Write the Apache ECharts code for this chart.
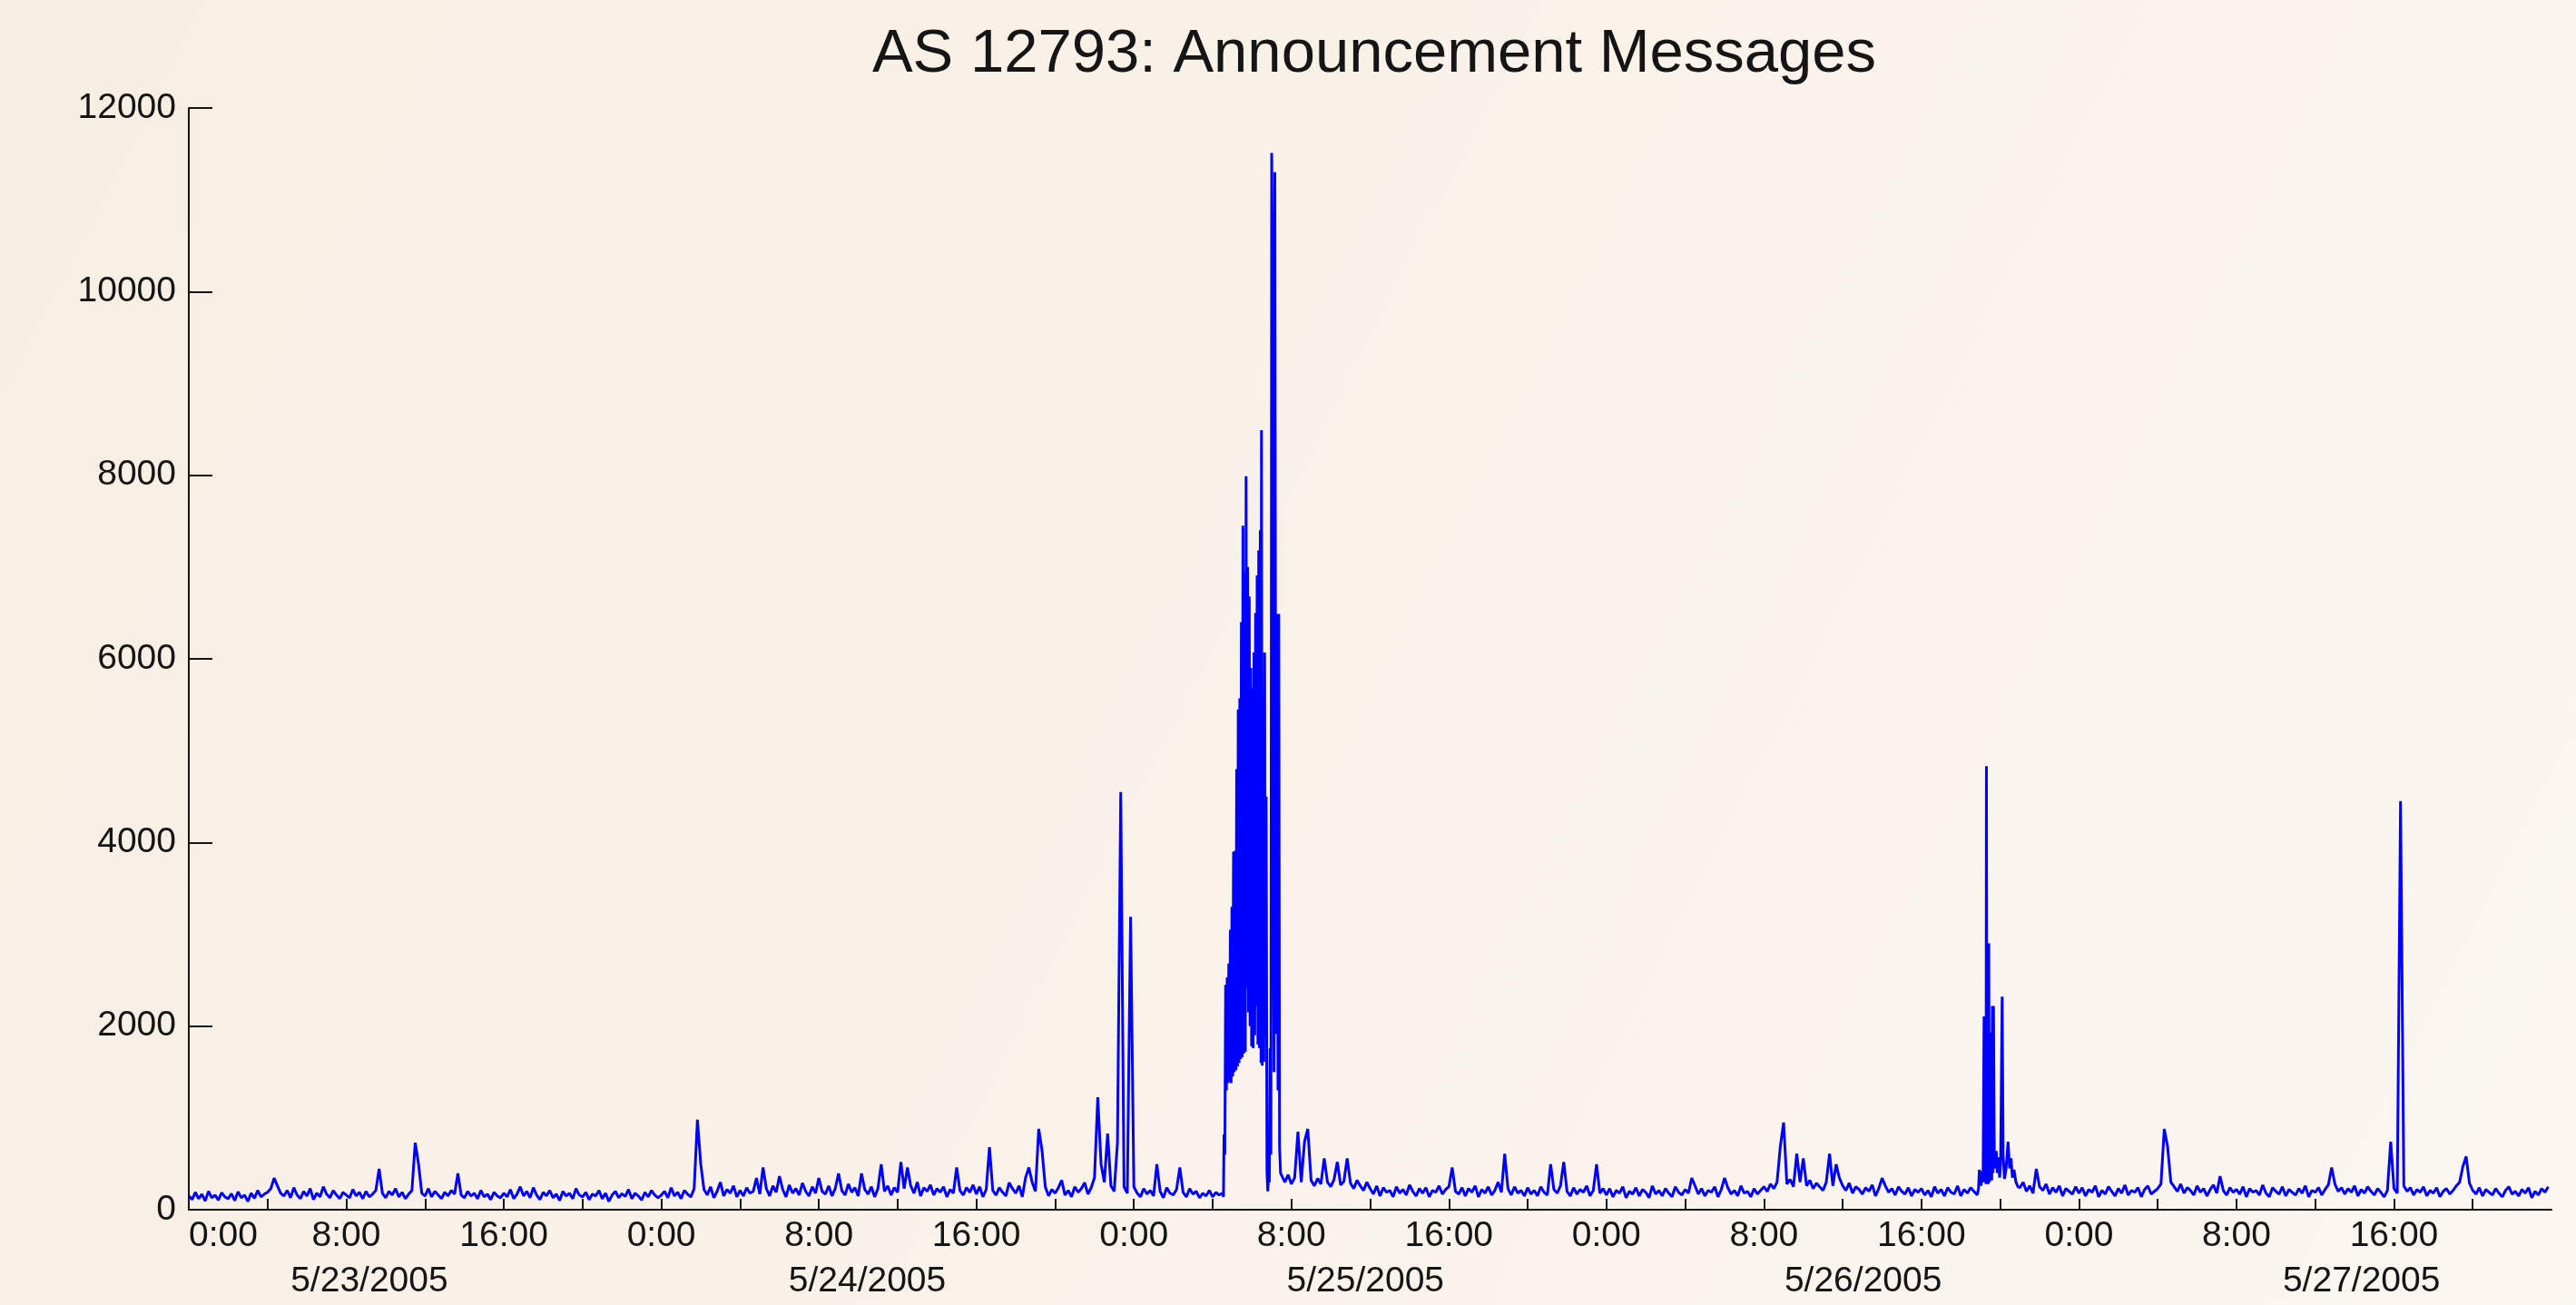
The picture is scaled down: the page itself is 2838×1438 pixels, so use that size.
<!DOCTYPE html>
<html>
<head>
<meta charset="utf-8">
<title>AS 12793: Announcement Messages</title>
<script src="https://cdn.jsdelivr.net/npm/echarts@6/dist/echarts.min.js"></script>
<style>
  html, body { margin: 0; padding: 0; }
  #chart { width: 2838px; height: 1438px; }
</style>
</head>
<body>
<div id="chart"></div>
<script>
// announcements per 10 min slot, one array per day (5/23 .. 5/27)
// null = slot is covered by a dense burst list below
var day1 = [
  150, 110, 190, 120, 170, 95, 200, 130, 160, 105, 185, 140, 120, 175, 100, 195, 130, 160, 90, 180, 125, 210, 140, 170,
  190, 230, 345, 260, 180, 150, 210, 130, 240, 160, 120, 200, 150, 230, 110, 180, 140, 250, 170, 130, 210, 160, 120, 190,
  160, 130, 220, 150, 190, 120, 200, 140, 170, 210, 445, 180, 130, 200, 160, 230, 140, 190, 120, 170, 210, 730, 500, 180,
  150, 230, 140, 200, 160, 120, 190, 150, 210, 170, 395, 160, 130, 200, 150, 180, 120, 210, 140, 170, 110, 190, 150, 130,
  180, 140, 220, 120, 170, 250, 150, 200, 130, 240, 160, 110, 190, 150, 210, 130, 170, 100, 200, 150, 180, 120, 230, 160,
  140, 190, 110, 170, 150, 210, 120, 180, 90, 160, 200, 130, 175, 145, 220, 120, 180, 150, 105, 190, 140, 210, 160, 130
]
var day2 = [
  160, 200, 130, 240, 150, 190, 120, 210, 170, 140, 230, 980, 500, 220, 160, 250, 130, 200, 300, 150, 220, 180, 260, 140,
  210, 150, 240, 180, 200, 345, 170, 460, 230, 150, 260, 190, 365, 220, 140, 270, 180, 230, 160, 290, 200, 150, 250, 180,
  345, 200, 170, 260, 150, 230, 395, 210, 160, 280, 190, 240, 150, 395, 220, 170, 250, 140, 230, 495, 200, 260, 160, 240,
  190, 520, 230, 460, 260, 180, 300, 150, 240, 200, 270, 160, 230, 190, 250, 140, 220, 180, 460, 210, 160, 240, 190, 270,
  170, 250, 140, 220, 680, 210, 160, 240, 190, 150, 295, 230, 180, 260, 140, 350, 460, 300, 200, 880, 650, 250, 150, 220,
  180, 240, 320, 160, 210, 140, 250, 190, 230, 295, 170, 240, 350, 1225, 495, 300, 830, 260, 200, 730, 4550, 250, 180, 3190
]
var day3 = [
  250, 180, 140, 230, 170, 210, 150, 495, 200, 130, 240, 180, 160, 220, 460, 190, 140, 230, 170, 200, 130, 180, 150, 210,
  140, 190, 160, null, null, null, null, null, null, null, null, null, null, null, null, null, null, null, null, null, null, null, 300, 380,
  280, 350, 850, 300, 740, 880, 320, 260, 340, 280, 560, 300, 250, 330, 520, 270, 310, 560, 290, 230, 320, 260, 210, 300,
  230, 170, 260, 150, 240, 190, 210, 140, 250, 180, 220, 160, 270, 200, 150, 230, 180, 240, 140, 210, 190, 260, 170, 220,
  250, 460, 200, 170, 240, 150, 230, 190, 260, 140, 220, 180, 250, 160, 210, 300, 190, 610, 230, 160, 250, 180, 210, 150,
  240, 170, 210, 150, 250, 190, 160, 495, 220, 180, 260, 520, 200, 150, 240, 170, 220, 190, 260, 150, 210, 495, 180, 230
]
var day4 = [
  160, 230, 140, 210, 180, 250, 130, 200, 170, 240, 150, 220, 190, 130, 260, 170, 210, 150, 230, 180, 140, 250, 190, 160,
  220, 180, 345, 260, 170, 230, 150, 210, 190, 250, 140, 220, 345, 240, 170, 210, 150, 260, 180, 200, 140, 230, 170, 210,
  250, 200, 280, 230, 300, 690, 950, 280, 330, 250, 610, 300, 560, 260, 320, 230, 290, 250, 210, 300, 610, 260, 495, 345,
  260, 210, 290, 180, 250, 220, 170, 240, 200, 270, 150, 230, 345, 260, 190, 230, 160, 250, 200, 170, 240, 150, 220, 190,
  230, 160, 210, 140, 250, 180, 220, 150, 240, 190, 170, 260, 150, 220, 180, 240, 200, 160, null, null, null, null, null, null,
  null, null, null, null, null, null, 240, 300, 200, 260, 180, 445, 250, 210, 280, 170, 240, 190, 260, 150, 230, 200, 170, 250
]
var day5 = [
  180, 240, 150, 220, 190, 260, 140, 210, 170, 250, 200, 150, 230, 180, 270, 160, 210, 190, 240, 140, 220, 260, 170, 200,
  230, 280, 880, 690, 300, 250, 200, 280, 180, 240, 210, 160, 260, 190, 230, 150, 220, 270, 180, 365, 210, 160, 240, 190,
  220, 170, 250, 140, 230, 190, 210, 160, 270, 180, 140, 240, 200, 170, 250, 150, 220, 190, 160, 230, 180, 260, 140, 210,
  190, 240, 160, 220, 270, 460, 280, 200, 240, 170, 230, 190, 260, 150, 220, 180, 250, 200, 160, 230, 190, 140, 210, 740,
  230, 180, 4450, 260, 200, 240, 160, 220, 190, 250, 150, 210, 180, 240, 140, 200, 230, 170, 210, 260, 300, 470, 580, 290,
  210, 170, 240, 150, 220, 190, 160, 230, 180, 140, 210, 250, 170, 200, 150, 220, 180, 240, 130, 200, 160, 230, 190, 250
]

// dense readings [hour since 5/23 0:00, messages]
var burst1 = [
  [52.50, 180], [52.55, 140], [52.58, 820], [52.62, 600], [52.66, 2450], [52.70, 1300], [52.74, 2530], [52.78, 1380],
  [52.82, 2680], [52.86, 1400], [52.90, 3050], [52.94, 1380], [52.98, 3300], [53.02, 1450], [53.06, 3900], [53.10, 1500],
  [53.14, 3910], [53.18, 1520], [53.22, 4800], [53.26, 1560], [53.30, 5450], [53.34, 1600], [53.38, 5570], [53.42, 1640],
  [53.46, 6400], [53.50, 1660], [53.54, 7450], [53.58, 1700], [53.62, 6950], [53.66, 1720], [53.70, 7990], [53.74, 2410],
  [53.78, 7000], [53.82, 2150], [53.86, 6680], [53.90, 2000], [53.94, 5900], [53.98, 1780], [54.02, 5680], [54.06, 1760],
  [54.10, 6070], [54.14, 1900], [54.18, 6500], [54.22, 2220], [54.26, 6910], [54.30, 1800], [54.34, 7180], [54.38, 1760],
  [54.42, 7400], [54.46, 1600], [54.48, 8490], [54.52, 1570], [54.56, 4910], [54.60, 1610], [54.64, 6070], [54.68, 1900],
  [54.72, 4500], [54.76, 415], [54.80, 200], [54.84, 350], [54.88, 300], [54.92, 1760], [54.96, 600], [55.00, 11510],
  [55.04, 10140], [55.08, 4290], [55.12, 1500], [55.16, 11300], [55.22, 1915], [55.27, 6490], [55.32, 1300], [55.36, 6490],
  [55.40, 680], [55.45, 400]
]
var burst2 = [
  [90.90, 230], [90.94, 435], [90.98, 380], [91.03, 260], [91.08, 420], [91.13, 300], [91.18, 2105], [91.21, 300],
  [91.25, 2100], [91.28, 280], [91.30, 4830], [91.33, 300], [91.36, 2900], [91.39, 280], [91.42, 2900], [91.45, 300],
  [91.48, 1930], [91.51, 350], [91.54, 1930], [91.57, 320], [91.60, 2220], [91.63, 400], [91.66, 2220], [91.70, 640],
  [91.75, 450], [91.80, 640], [91.85, 400], [91.92, 570], [91.97, 350], [92.02, 500], [92.10, 2320], [92.15, 590],
  [92.22, 335], [92.30, 450], [92.40, 740], [92.48, 450], [92.55, 560], [92.62, 350], [92.70, 435], [92.80, 300], [92.90, 250]
]

var dateLabels = ['5/23/2005', '5/24/2005', '5/25/2005', '5/26/2005', '5/27/2005']
var dateLabelHours = [9.17, 34.46, 59.76, 85.04, 110.35]

var points = []
;[day1, day2, day3, day4, day5].forEach(function(arr, d) {
  arr.forEach(function(v, i) {
    if (v === null) return
    points.push([d * 24 + i / 6, v])
  })
})
points = points.concat(burst1, burst2).sort(function(a, b) { return a[0] - b[0] })

var FONT = 'Liberation Sans, Arial, sans-serif'
var INK = '#151515'

var chart = echarts.init(document.getElementById('chart'))
chart.setOption({
  animation: false,
  backgroundColor: new echarts.graphic.LinearGradient(0, 0, 1, 1, [
    { offset: 0, color: '#f7eee3' },
    { offset: 1, color: '#faf6f0' }
  ]),
  title: {
    text: 'AS 12793: Announcement Messages',
    left: 1509,
    top: 22,
    textAlign: 'center',
    textStyle: { fontSize: 67, fontWeight: 'normal', color: INK, fontFamily: FONT }
  },
  grid: { left: 208, right: 27, top: 119, bottom: 105, outerBoundsMode: 'none' },
  xAxis: [
    {
      type: 'value',
      min: 0,
      max: 120,
      interval: 4,
      axisLine: { lineStyle: { color: INK, width: 2 } },
      axisTick: { inside: true, length: 12, lineStyle: { color: INK, width: 2 } },
      splitLine: { show: false },
      axisLabel: {
        fontSize: 39,
        color: INK,
        fontFamily: FONT,
        margin: 10,
        alignMinLabel: 'left',
        showMaxLabel: false,
        formatter: function(v) {
          if (v % 8 !== 0 || v >= 120) return ''
          return (v % 24) + ':00'
        }
      }
    },
    {
      type: 'value',
      min: 0,
      max: 120,
      position: 'bottom',
      offset: 50,
      axisLine: { show: false },
      axisTick: { show: false },
      splitLine: { show: false },
      axisLabel: {
        customValues: dateLabelHours,
        fontSize: 39,
        color: INK,
        fontFamily: FONT,
        margin: 10,
        formatter: function(v) {
          var best = 0
          dateLabelHours.forEach(function(h, i) {
            if (Math.abs(h - v) < Math.abs(dateLabelHours[best] - v)) best = i
          })
          return dateLabels[best]
        }
      }
    }
  ],
  yAxis: {
    type: 'value',
    min: 0,
    max: 12000,
    interval: 2000,
    axisLine: { show: true, lineStyle: { color: INK, width: 2 } },
    axisTick: { show: true, inside: true, length: 26, lineStyle: { color: INK, width: 2 } },
    splitLine: { show: false },
    axisLabel: {
      fontSize: 39,
      color: INK,
      fontFamily: FONT,
      margin: 14,
      formatter: function(v) { return String(v) }
    }
  },
  series: [
    {
      name: 'Announcements',
      type: 'line',
      xAxisIndex: 0,
      data: points,
      symbol: 'none',
      lineStyle: { color: '#0000ff', width: 3 },
      itemStyle: { color: '#0000ff' }
    }
  ]
})
</script>
</body>
</html>
